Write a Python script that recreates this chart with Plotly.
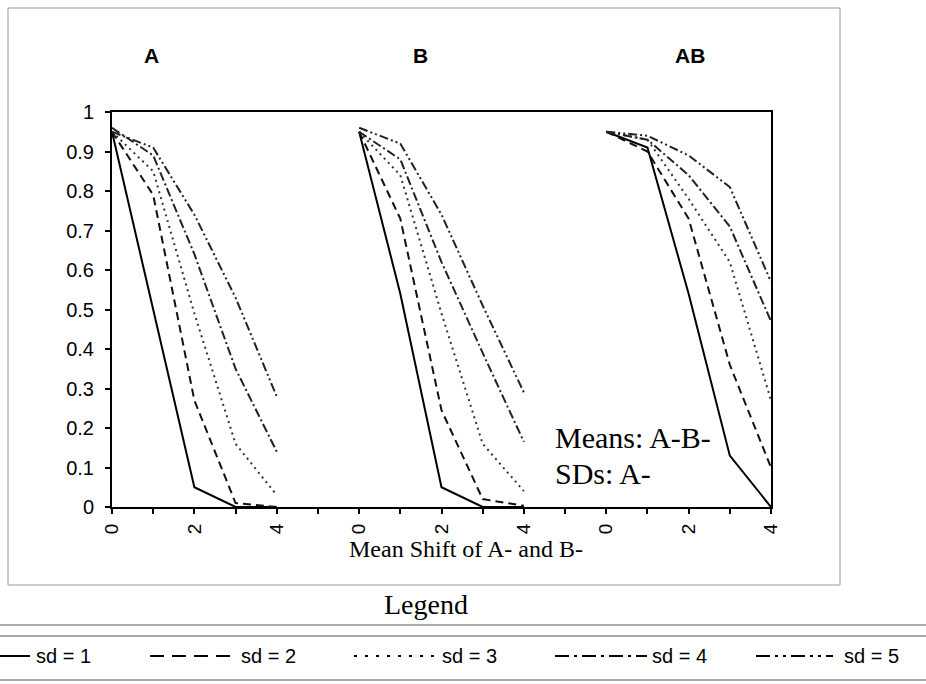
import plotly.graph_objects as go

# ---- data ----
panels = ["A", "B", "AB"]
shift = [0, 1, 2, 3, 4]
tick_labels = ["0", "", "2", "", "4"]
series_names = ["sd = 1", "sd = 2", "sd = 3", "sd = 4", "sd = 5"]

sd1_A = [0.95, 0.50, 0.05, 0.00, 0.00]
sd2_A = [0.95, 0.79, 0.27, 0.01, 0.00]
sd3_A = [0.95, 0.85, 0.49, 0.16, 0.03]
sd4_A = [0.96, 0.89, 0.64, 0.35, 0.14]
sd5_A = [0.95, 0.91, 0.74, 0.53, 0.28]

sd1_B = [0.95, 0.54, 0.05, 0.00, 0.00]
sd2_B = [0.95, 0.73, 0.245, 0.02, 0.003]
sd3_B = [0.95, 0.84, 0.49, 0.16, 0.04]
sd4_B = [0.95, 0.88, 0.62, 0.39, 0.165]
sd5_B = [0.96, 0.92, 0.74, 0.51, 0.29]

sd1_AB = [0.95, 0.91, 0.54, 0.13, 0.00]
sd2_AB = [0.95, 0.90, 0.73, 0.36, 0.10]
sd3_AB = [0.95, 0.93, 0.78, 0.62, 0.27]
sd4_AB = [0.95, 0.93, 0.84, 0.71, 0.47]
sd5_AB = [0.95, 0.94, 0.89, 0.81, 0.57]

series = [
    [sd1_A, sd1_B, sd1_AB],
    [sd2_A, sd2_B, sd2_AB],
    [sd3_A, sd3_B, sd3_AB],
    [sd4_A, sd4_B, sd4_AB],
    [sd5_A, sd5_B, sd5_AB],
]

# ---- styles ----
dashes = ["solid", "8px,5px", "2px,4px", "9px,3px,2px,3px", "9px,3px,2px,3px,2px,3px"]
legend_dashes = ["solid", "14px,8px", "3px,8px", "14px,5px,3px,5px", "14px,5px,3px,5px,3px,5px"]
colors = ["#000000", "#111111", "#333333", "#222222", "#222222"]
widths = [2, 2, 2, 2, 2]

SANS = "Liberation Sans, Arial, sans-serif"
SERIF = "Liberation Serif, Times New Roman, serif"

# layout geometry (pixels)
W, H = 926, 684
PL, PR, PT, PB = 112, 771, 112, 507


def px_x(px):
    return (px - PL) / (PR - PL)


def px_y(py):
    return (PB - py) / (PB - PT)


n = len(shift)
gap = 1
fig = go.Figure()

for si, name in enumerate(series_names):
    xs, ys = [], []
    for pi in range(len(panels)):
        off = pi * (n + gap)
        xs += [off + s for s in shift] + [None]
        ys += list(series[si][pi]) + [None]
    fig.add_trace(go.Scatter(
        x=xs, y=ys, mode="lines", name=name, connectgaps=False,
        line=dict(color=colors[si], width=widths[si], dash=dashes[si]),
        showlegend=False,
    ))

tickvals, ticktext = [], []
for pi in range(len(panels)):
    off = pi * (n + gap)
    for k, s in enumerate(shift):
        tickvals.append(off + s)
        ticktext.append(tick_labels[k])
    if pi < len(panels) - 1:
        tickvals.append(off + n)
        ticktext.append("")

total = len(panels) * n + (len(panels) - 1) * gap - 1

fig.update_layout(
    width=W, height=H,
    margin=dict(l=PL, r=W - PR, t=PT, b=H - PB, autoexpand=False),
    paper_bgcolor="white", plot_bgcolor="white",
    font=dict(family=SANS, size=19, color="black"),
    showlegend=False,
)

fig.update_xaxes(
    range=[0, total], tickmode="array", tickvals=tickvals, ticktext=ticktext,
    tickangle=-90, ticks="outside", ticklen=5, tickcolor="black", tickwidth=1.5,
    showline=True, linecolor="black", linewidth=2, mirror=True,
    showgrid=False, zeroline=False, ticklabelstandoff=2,
    tickfont=dict(family=SANS, size=19),
)
fig.update_yaxes(
    range=[0, 1], tickmode="array",
    tickvals=[i / 10 for i in range(11)],
    ticktext=["0"] + [f"0.{i}" for i in range(1, 10)] + ["1"],
    ticks="outside", ticklen=5, tickcolor="black", tickwidth=1.5,
    showline=True, linecolor="black", linewidth=2, mirror=True,
    showgrid=False, zeroline=False, ticklabelstandoff=7,
    tickfont=dict(family=SANS, size=20),
)

# x axis title (placed as in original, slightly right of centre)
fig.add_annotation(text="Mean Shift of A- and B-", x=px_x(466), y=px_y(549),
                   xref="paper", yref="paper", showarrow=False,
                   xanchor="center", yanchor="middle",
                   font=dict(family=SERIF, size=24))

# panel titles
title_px = [151, 420, 690]
for t, xp in zip(panels, title_px):
    fig.add_annotation(text=f"<b>{t}</b>", x=px_x(xp), y=px_y(56), xref="paper", yref="paper",
                       showarrow=False, xanchor="center", yanchor="middle",
                       font=dict(family=SANS, size=21))

# in-plot note
fig.add_annotation(text="Means: A-B-", x=px_x(553), y=px_y(437), xref="paper", yref="paper",
                   showarrow=False, xanchor="left", yanchor="middle",
                   font=dict(family=SERIF, size=30))
fig.add_annotation(text="SDs: A-", x=px_x(553), y=px_y(473), xref="paper", yref="paper",
                   showarrow=False, xanchor="left", yanchor="middle",
                   font=dict(family=SERIF, size=30))

# "Legend" caption
fig.add_annotation(text="Legend", x=px_x(426), y=px_y(604), xref="paper", yref="paper",
                   showarrow=False, xanchor="center", yanchor="middle",
                   font=dict(family=SERIF, size=28))

# chart frame and legend rules
fig.add_shape(type="rect", xref="paper", yref="paper",
              x0=px_x(8), x1=px_x(840), y0=px_y(8), y1=px_y(585),
              line=dict(color="#9a9a9a", width=1), layer="below")
for yy in [625, 636, 680]:
    fig.add_shape(type="line", xref="paper", yref="paper",
                  x0=px_x(0), x1=px_x(926), y0=px_y(yy), y1=px_y(yy),
                  line=dict(color="#555555", width=1))

# legend row: line samples + labels
sample_px = [(0, 30), (150, 236), (354, 434), (555, 647), (756, 833)]
label_px = [34, 239, 440, 650, 842]
LY = 656
for i, name in enumerate(series_names):
    x0, x1 = sample_px[i]
    fig.add_shape(type="line", xref="paper", yref="paper",
                  x0=px_x(x0), x1=px_x(x1), y0=px_y(LY), y1=px_y(LY),
                  line=dict(color="black", width=2, dash=legend_dashes[i]))
    fig.add_annotation(text=name, x=px_x(label_px[i]), y=px_y(LY), xref="paper", yref="paper",
                       showarrow=False, xanchor="left", yanchor="middle",
                       font=dict(family=SANS, size=20))

fig.write_html("out.html")
